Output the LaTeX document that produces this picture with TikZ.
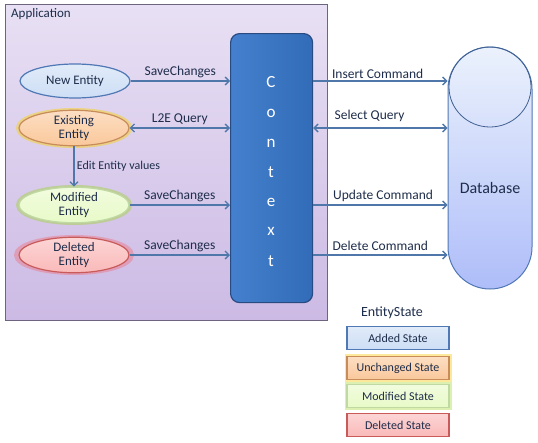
\documentclass[tikz,border=0pt]{standalone}
\usepackage{fontspec}
\setmainfont{Carlito}
\usetikzlibrary{shapes.geometric,arrows.meta}
\definecolor{arr}{RGB}{79,119,170}
\definecolor{txt}{RGB}{30,45,75}
\definecolor{appT}{RGB}{232,224,244}
\definecolor{appB}{RGB}{204,186,228}
\definecolor{appD}{RGB}{110,100,125}
\definecolor{ctxT}{RGB}{68,128,205}
\definecolor{ctxB}{RGB}{50,108,185}
\definecolor{ctxD}{RGB}{40,75,130}
\definecolor{blueF}{RGB}{205,222,245}
\definecolor{blueD}{RGB}{80,120,180}
\definecolor{orF}{RGB}{250,200,155}
\definecolor{orD}{RGB}{200,140,90}
\definecolor{grF}{RGB}{232,250,200}
\definecolor{grD}{RGB}{150,190,100}
\definecolor{rdF}{RGB}{250,185,185}
\definecolor{rdD}{RGB}{200,90,90}
\definecolor{dbF}{RGB}{205,222,248}
\tikzset{
  x=1pt,y=-1pt,
  ent/.style={ellipse, draw=#1D, line width=1.2pt, minimum width=110pt, minimum height=34pt,
     inner sep=0pt, align=center, font=\fontsize{13}{14}\selectfont, text=txt,
     top color=white!40!#1F, bottom color=#1F},
  glowY/.style={ellipse, draw=yellow!70!orange, line width=6pt, draw opacity=0.45, minimum width=110pt, minimum height=34pt, inner sep=0pt},
  glowG/.style={ellipse, draw=yellow!60!green, line width=6pt, draw opacity=0.4, minimum width=110pt, minimum height=34pt, inner sep=0pt},
  glowR/.style={ellipse, draw=red!70, line width=6pt, draw opacity=0.3, minimum width=114pt, minimum height=34pt, inner sep=0pt},
  lbl/.style={font=\fontsize{13.5}{14}\selectfont, text=txt, inner sep=1pt},
  conn/.style={draw=arr, line width=1.8pt, -{Straight Barb[length=4pt,width=8pt,line width=1.3pt]}},
  conn2/.style={draw=arr, line width=1.8pt, {Straight Barb[length=4pt,width=8pt,line width=1.3pt]}-{Straight Barb[length=4pt,width=8pt,line width=1.3pt]}},
  legbox/.style={draw=#1D, line width=1.2pt, minimum width=102pt, minimum height=23pt, inner sep=0pt,
     font=\fontsize{12}{13}\selectfont, text=txt, top color=white!40!#1F, bottom color=#1F},
  ctxl/.style={font=\fontsize{17}{18}\selectfont, text=white}
}
\begin{document}
\begin{tikzpicture}
\useasboundingbox (0,0) rectangle (538,442);
% application
\node[draw=appD, line width=1.2pt, top color=appT, bottom color=appB, minimum width=322pt, minimum height=316pt, inner sep=0pt, anchor=north west] (app) at (5,4) {};
\node[anchor=north west, font=\fontsize{13}{14}\selectfont, text=txt, inner sep=1pt] (appl) at (10,7) {Application};
% context
\node[draw=ctxD, line width=1.2pt, rounded corners=9pt, left color=ctxT, right color=ctxB, minimum width=82pt, minimum height=269pt, inner sep=0pt, anchor=north west] (ctx) at (230,33) {};
\node[ctxl] (c1) at (271,82) {C};
\node[ctxl] (c2) at (271,113) {o};
\node[ctxl] (c3) at (271,143) {n};
\node[ctxl] (c4) at (271,172) {t};
\node[ctxl] (c5) at (271,202) {e};
\node[ctxl] (c6) at (271,231) {x};
\node[ctxl] (c7) at (271,261) {t};
% entities
\node[glowY] (exg) at (74,128) {};
\node[glowG] (mog) at (74,205) {};
\node[glowR] (deg) at (74,255) {};
\node[ent=blue] (ne) at (75,81) {New Entity};
\node[ent=or] (ex) at (74,128) {Existing\\Entity};
\node[ent=gr, draw=grD!60] (mo) at (74,205) {Modified\\Entity};
\node[ent=rd] (de) at (74,255) {Deleted\\Entity};
% database
\node[draw=blueD, line width=1pt, rounded corners=42pt, top color=white!60!dbF, bottom color=dbF!85!blue, minimum width=84pt, minimum height=242pt, inner sep=0pt] (db) at (490,168) {};
\node[ellipse, draw=blueD!80!black, line width=0.8pt, minimum width=82pt, minimum height=80pt, inner sep=0pt] (dbtop) at (490,87) {};
\node[font=\fontsize{16}{17}\selectfont, text=txt] (dbl) at (490,188) {Database};
% left connectors
\draw[conn] (ne.east) -- (ctx.west |- ne.center) node[lbl, midway, above=1pt] {SaveChanges};
\draw[conn2] (ex.east) -- (ctx.west |- ex.center) node[lbl, midway, above=1pt] {L2E Query};
\draw[conn] (mo.east) -- (ctx.west |- mo.center) node[lbl, midway, above=1pt] {SaveChanges};
\draw[conn] (de.east) -- (ctx.west |- de.center) node[lbl, midway, above=1pt] {SaveChanges};
\draw[conn] (ex.south) -- (mo.north) node[lbl, midway, right=1pt, font=\fontsize{12}{13}\selectfont] {Edit Entity values};
% right connectors
\draw[conn] (ctx.east |- ne.center) -- (db.west |- ne.center) node[lbl, pos=0.48, above=1pt] {Insert Command};
\draw[conn2] (ctx.east |- ex.center) -- (db.west |- ex.center) node[lbl, pos=0.42, above=4pt] {Select Query};
\draw[conn] (ctx.east |- mo.center) -- (db.west |- mo.center) node[lbl, pos=0.52, above=1pt] {Update Command};
\draw[conn] (ctx.east |- de.center) -- (db.west |- de.center) node[lbl, pos=0.5, above=3pt] {Delete Command};
% legend
\node[font=\fontsize{14}{15}\selectfont, text=txt] (lt) at (392,313) {EntityState};
\node[legbox=blue] (l1) at (398,338) {Added State};
\node[draw=yellow!60!orange, draw opacity=0.4, line width=5pt, minimum width=102pt, minimum height=23pt] (l2g) at (398,368) {};
\node[legbox=or] (l2) at (398,368) {Unchanged State};
\node[draw=yellow!60!green, draw opacity=0.35, line width=5pt, minimum width=102pt, minimum height=23pt] (l3g) at (398,396) {};
\node[legbox=gr, draw=grD!60] (l3) at (398,396) {Modified State};
\node[legbox=rd] (l4) at (398,425) {Deleted State};
\end{tikzpicture}
\end{document}
